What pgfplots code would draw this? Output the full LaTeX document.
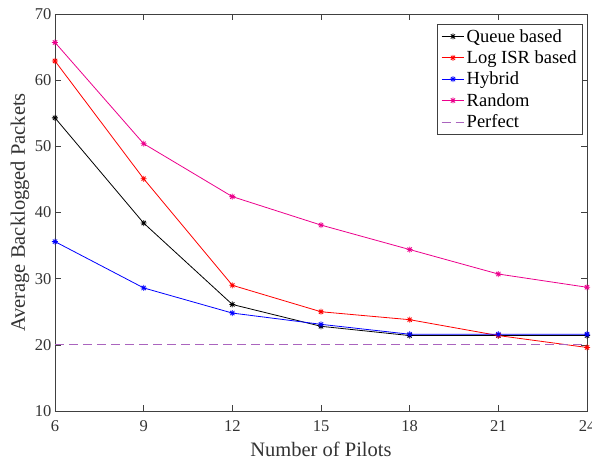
\documentclass[border=0pt]{standalone}
\usepackage{pgfplots}
\pgfplotsset{compat=1.18}
\usepackage{fontspec}
\setmainfont{Liberation Serif}
\definecolor{perf}{RGB}{170,100,190}
\pgfdeclareplotmark{mstar}{%
  \pgfpathmoveto{\pgfqpoint{-\pgfplotmarksize}{0pt}}\pgfpathlineto{\pgfqpoint{\pgfplotmarksize}{0pt}}%
  \pgfpathmoveto{\pgfqpoint{0pt}{-\pgfplotmarksize}}\pgfpathlineto{\pgfqpoint{0pt}{\pgfplotmarksize}}%
  \pgfpathmoveto{\pgfqpoint{-0.7071\pgfplotmarksize}{-0.7071\pgfplotmarksize}}\pgfpathlineto{\pgfqpoint{0.7071\pgfplotmarksize}{0.7071\pgfplotmarksize}}%
  \pgfpathmoveto{\pgfqpoint{-0.7071\pgfplotmarksize}{0.7071\pgfplotmarksize}}\pgfpathlineto{\pgfqpoint{0.7071\pgfplotmarksize}{-0.7071\pgfplotmarksize}}%
  \pgfusepathqstroke}
\begin{document}
\begin{tikzpicture}
\begin{axis}[
  at={(0pt,0pt)}, anchor=south west,
  scale only axis,
  width=532pt, height=397pt,
  xmin=6, xmax=24, ymin=10, ymax=70,
  xtick={6,9,12,15,18,21,24},
  ytick={10,20,30,40,50,60,70},
  tick align=inside,
  major tick length=6pt,
  axis line style={line width=0.7pt, black!75},
  every tick/.style={black!75, line width=0.6pt},
  /pgf/number format/assume math mode=true,
  tick label style={font=\fontsize{16.5}{19}\selectfont, text=black!80},
  xticklabel style={yshift=-6pt},
  label style={font=\fontsize{20.5}{24}\selectfont, text=black!80},
  xlabel={Number of Pilots},
  ylabel={Average Backlogged Packets},
  xlabel style={at={([yshift=-46pt]axis description cs:0.5,0)}, anchor=base},
  ylabel style={at={([xshift=-30pt]axis description cs:0,0.5)}, anchor=base},
  legend style={at={([xshift=-4pt,yshift=-10pt]axis description cs:1,1)}, anchor=north east, font=\fontsize{18.5}{21}\selectfont,
    draw=black!75, line width=0.6pt, row sep=3pt, inner xsep=4pt, inner ysep=3pt},
  legend cell align=left,
  legend image code/.code={\draw[mark repeat=2,mark phase=2,#1] plot coordinates {(0cm,0cm)(0.4cm,0cm)(0.8cm,0cm)};},
  every axis plot/.append style={line width=0.8pt, mark size=3pt, mark options={solid, line width=0.8pt}},
]
\addplot[black, mark=mstar] coordinates {(6,54.3) (9,38.4) (12,26.1) (15,22.8) (18,21.4) (21,21.4) (24,21.4)};
\addlegendentry{Queue based}
\addplot[red, mark=mstar] coordinates {(6,62.9) (9,45.1) (12,29.0) (15,25.0) (18,23.8) (21,21.4) (24,19.6)};
\addlegendentry{Log ISR based}
\addplot[blue, mark=mstar] coordinates {(6,35.6) (9,28.6) (12,24.8) (15,23.1) (18,21.6) (21,21.6) (24,21.6)};
\addlegendentry{Hybrid}
\addplot[magenta, mark=mstar] coordinates {(6,65.7) (9,50.4) (12,42.4) (15,38.1) (18,34.4) (21,30.7) (24,28.7)};
\addlegendentry{Random}
\addplot[perf, dashed, dash pattern=on 9pt off 5pt, no marks] coordinates {(6,20) (9,20) (12,20) (15,20) (18,20) (21,20) (24,20)};
\addlegendentry{Perfect}
\end{axis}
\pgfresetboundingbox
\path (-55pt,-51pt) rectangle (537pt,411pt);
\end{tikzpicture}
\end{document}
